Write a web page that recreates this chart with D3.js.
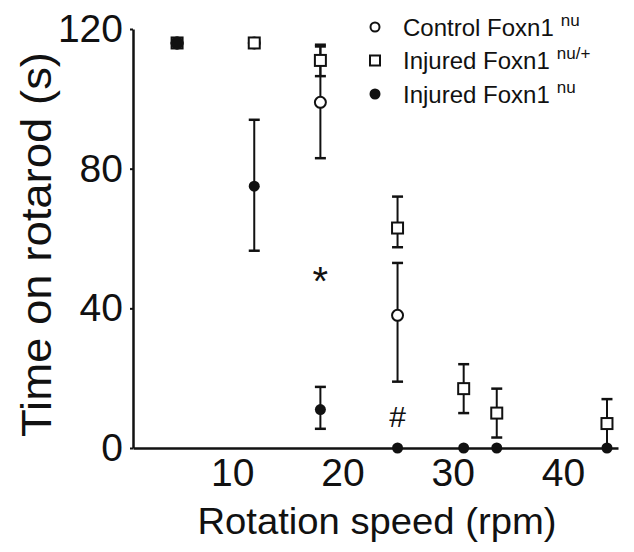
<!DOCTYPE html>
<html>
<head>
<meta charset="utf-8">
<script src="https://cdn.jsdelivr.net/npm/d3@7"></script>
<style>
  body { margin: 0; background: #fff; }
  text { font-family: "Liberation Sans", Arial, sans-serif; fill: #111; }
</style>
</head>
<body>
<div id="chart"></div>
<script>
// rotation speeds (rpm)
const speeds = [5, 12, 18, 25, 31, 34, 44];

// Control Foxn1 nu (open circles), null = not shown
const controlMean = [116, 116, 99, 38, null, null, null];
const controlHi   = [null, null, 115, 53, null, null, null];
const controlLo   = [null, null, 83, 19, null, null, null];

// Injured Foxn1 nu/+ (open squares)
const hetMean = [116, 116, 111, 63, 17, 10, 7];
const hetHi   = [null, null, 115.5, 72, 24, 17, 14];
const hetLo   = [null, null, 106.5, 57.5, 10, 3, 0];

// Injured Foxn1 nu (filled circles)
const nudeMean = [116, 75, 11, 0, 0, 0, 0];
const nudeHi   = [null, 94, 17.5, null, null, null, null];
const nudeLo   = [null, 56.5, 5.5, null, null, null, null];

const xTicks = [10, 20, 30, 40];
const yTicks = [0, 40, 80, 120];

const legendLabels = ["Control Foxn1", "Injured Foxn1", "Injured Foxn1"];
const legendSups = ["nu", "nu/+", "nu"];
const legendShapes = ["circle", "square", "dot"];

// significance marks: [speed, value, symbol]
const marks = [[18, 51, "*"], [25, 9, "#"]];

const W = 634, H = 552;
const svg = d3.select("#chart").append("svg")
  .attr("width", W).attr("height", H);

const x = d3.scaleLinear().domain([1, 45]).range([133, 618]);
const y = d3.scaleLinear().domain([0, 120]).range([448, 29]);

// axes
svg.append("g")
  .attr("transform", "translate(" + x(1) + ",0)")
  .call(d3.axisLeft(y).tickValues(yTicks).tickSizeInner(3).tickSizeOuter(0).tickPadding(7));
svg.append("g")
  .attr("transform", "translate(0," + y(0) + ")")
  .call(d3.axisBottom(x).tickValues(xTicks).tickSize(0).tickPadding(10));

svg.selectAll(".domain").attr("stroke", "#111").attr("stroke-width", 2.5);
svg.selectAll(".tick line").attr("stroke", "#111").attr("stroke-width", 2);
svg.selectAll(".tick text")
  .style("font-family", "'Liberation Sans', Arial, sans-serif")
  .attr("font-size", 39).attr("fill", "#111");

// axis titles
svg.append("text")
  .attr("transform", "translate(51," + ((52 + 437) / 2) + ") rotate(-90)")
  .attr("text-anchor", "middle")
  .attr("font-size", 42)
  .attr("textLength", 385).attr("lengthAdjust", "spacingAndGlyphs")
  .text("Time on rotarod (s)");

svg.append("text")
  .attr("x", 377).attr("y", 534)
  .attr("text-anchor", "middle")
  .attr("font-size", 37)
  .attr("textLength", 359).attr("lengthAdjust", "spacingAndGlyphs")
  .text("Rotation speed (rpm)");

// build rows per series
function rows(mean, hi, lo) {
  return speeds.map((s, i) => ({ s: s, m: mean[i], hi: hi[i], lo: lo[i] }))
    .filter(d => d.m !== null);
}
const control = rows(controlMean, controlHi, controlLo);
const het = rows(hetMean, hetHi, hetLo);
const nude = rows(nudeMean, nudeHi, nudeLo);

// error bars
function errorBars(data) {
  const g = svg.append("g").attr("stroke", "#111");
  const e = data.filter(d => d.hi !== null);
  g.selectAll("line.v").data(e).enter().append("line")
    .attr("x1", d => x(d.s)).attr("x2", d => x(d.s))
    .attr("y1", d => y(d.hi)).attr("y2", d => y(d.lo))
    .attr("stroke-width", 2);
  g.selectAll("line.top").data(e).enter().append("line")
    .attr("x1", d => x(d.s) - 5.5).attr("x2", d => x(d.s) + 5.5)
    .attr("y1", d => y(d.hi)).attr("y2", d => y(d.hi))
    .attr("stroke-width", 2.5);
  g.selectAll("line.bot").data(e.filter(d => d.lo > 0)).enter().append("line")
    .attr("x1", d => x(d.s) - 5.5).attr("x2", d => x(d.s) + 5.5)
    .attr("y1", d => y(d.lo)).attr("y2", d => y(d.lo))
    .attr("stroke-width", 2.5);
}
errorBars(control);
errorBars(het);
errorBars(nude);

// markers
svg.append("g").selectAll("circle").data(control).enter().append("circle")
  .attr("cx", d => x(d.s)).attr("cy", d => y(d.m)).attr("r", 5.5)
  .attr("fill", "#fff").attr("stroke", "#111").attr("stroke-width", 2);

svg.append("g").selectAll("rect").data(het).enter().append("rect")
  .attr("x", d => x(d.s) - 5.5).attr("y", d => y(d.m) - 5.5)
  .attr("width", 11).attr("height", 11)
  .attr("fill", "#fff").attr("stroke", "#111").attr("stroke-width", 2);

svg.append("g").selectAll("circle").data(nude).enter().append("circle")
  .attr("cx", d => x(d.s)).attr("cy", d => y(d.m))
  .attr("r", d => d.s === 5 ? 6.5 : 5.5)
  .attr("fill", "#111");

// significance marks
svg.append("g").selectAll("text").data(marks).enter().append("text")
  .attr("x", d => x(d[0])).attr("y", d => y(d[1]))
  .attr("text-anchor", "middle")
  .attr("dy", d => d[2] === "*" ? "0.62em" : "0.36em")
  .attr("font-size", d => d[2] === "*" ? 40 : 30)
  .text(d => d[2]);

// legend
const leg = svg.append("g").selectAll("g").data(legendLabels).enter().append("g")
  .attr("transform", (d, i) => "translate(375," + (27 + i * 33.5) + ")");

leg.each(function(d, i) {
  const g = d3.select(this);
  if (legendShapes[i] === "circle") {
    g.append("circle").attr("r", 4.5).attr("fill", "#fff")
      .attr("stroke", "#111").attr("stroke-width", 2);
  } else if (legendShapes[i] === "square") {
    g.append("rect").attr("x", -5).attr("y", -5).attr("width", 10).attr("height", 10)
      .attr("fill", "#fff").attr("stroke", "#111").attr("stroke-width", 2);
  } else {
    g.append("circle").attr("r", 5.5).attr("fill", "#111");
  }
  const t = g.append("text").attr("x", 28).attr("y", 8.5).attr("font-size", 24);
  t.append("tspan").text(d);
  t.append("tspan").attr("dx", 7).attr("dy", -10).attr("font-size", 17).text(legendSups[i]);
});
</script>
</body>
</html>
